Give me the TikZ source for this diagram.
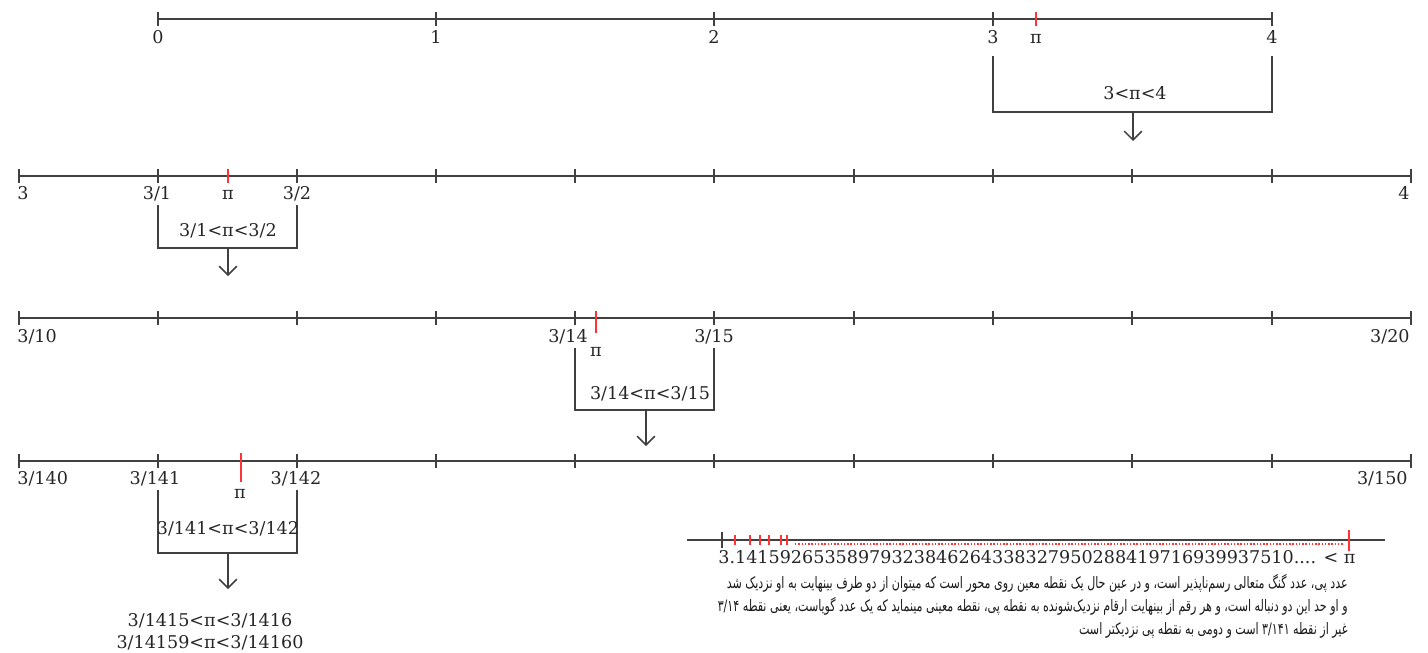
\documentclass[tikz,border=0pt]{standalone}
\usepackage{fontspec}
\setmainfont{DejaVu Serif}
\newfontfamily\persianfont[Script=Arabic, FakeStretch=0.7]{DejaVu Sans}
\TeXXeTstate=1
\usetikzlibrary{arrows.meta,positioning}

\begin{document}
\begin{tikzpicture}[
    x=0.02cm, y=-0.02cm,
    axis/.style={draw=black!75, line width=0.85pt},
    tick/.style={draw=black!75, line width=0.85pt},
    pitick/.style={draw=red!80, line width=0.85pt},
    lbl/.style={font=\fontsize{10}{12}\selectfont, text=black!85, inner sep=0pt},
    note/.style={font=\persianfont\fontsize{9}{11}\selectfont, text=black!90, inner sep=0pt, anchor=base east},
    bracket/.style={draw=black!75, line width=0.85pt},
    arrow/.style={-{Straight Barb[length=5pt,width=10pt]}, draw=black!75, line width=0.85pt}
]

\useasboundingbox (0,0) rectangle (1428,653);

% Row 1 (y=19): 0 .. 4
\coordinate (r1s) at (158,19);
\coordinate (r1e) at (1272,19);
\draw[axis] (r1s) -- (r1e);
\foreach \x in {158,436,714,993,1272}
    \draw[tick] (\x,12) -- (\x,26);
\draw[pitick] (1036,12) -- (1036,26);
\node[lbl, anchor=base] (n0)   at (158,43)  {0};
\node[lbl, anchor=base] (n1)   at (436,43)  {1};
\node[lbl, anchor=base] (n2)   at (714,43)  {2};
\node[lbl, anchor=base] (n3)   at (993,43)  {3};
\node[lbl, anchor=base] (pi1)  at (1036,43) {π};
\node[lbl, anchor=base] (n4)   at (1272,43) {4};

% Bracket 1
\coordinate (b1l) at (993,56);
\coordinate (b1r) at (1272,56);
\coordinate (b1m) at (1133,112);
\coordinate (b1t) at (1133,141);
\draw[bracket] (b1l) |- (b1m) -| (b1r);
\node[lbl, anchor=base] (c1) at (1135,99) {3<π<4};
\draw[arrow] (b1m) -- (b1t);

% Row 2 (y=176): 3 .. 4
\coordinate (r2s) at (19,176);
\coordinate (r2e) at (1411,176);
\draw[axis] (r2s) -- (r2e);
\foreach \x in {19,158,297,436,575,714,854,993,1132,1272,1411}
    \draw[tick] (\x,169) -- (\x,183);
\draw[pitick] (228,169) -- (228,183);
\node[lbl, anchor=base west] (m3)  at (17,199)   {3};
\node[lbl, anchor=base]      (m31) at (157,199)  {3/1};
\node[lbl, anchor=base]      (pi2) at (228,199)  {π};
\node[lbl, anchor=base]      (m32) at (297,199)  {3/2};
\node[lbl, anchor=base east] (m4)  at (1410,199) {4};

% Bracket 2
\coordinate (b2l) at (158,205);
\coordinate (b2r) at (297,205);
\coordinate (b2m) at (228,248);
\coordinate (b2t) at (228,276);
\draw[bracket] (b2l) |- (b2m) -| (b2r);
\node[lbl, anchor=base] (c2) at (228,236) {3/1<π<3/2};
\draw[arrow] (b2m) -- (b2t);

% Row 3 (y=318): 3/10 .. 3/20
\coordinate (r3s) at (19,318);
\coordinate (r3e) at (1411,318);
\draw[axis] (r3s) -- (r3e);
\foreach \x in {19,158,297,436,575,714,854,993,1132,1272,1411}
    \draw[tick] (\x,311) -- (\x,325);
\draw[pitick] (596,311) -- (596,333);
\node[lbl, anchor=base west] (k310) at (17,342)   {3/10};
\node[lbl, anchor=base]      (k314) at (568,342)  {3/14};
\node[lbl, anchor=base]      (pi3)  at (596,356)  {π};
\node[lbl, anchor=base]      (k315) at (714,342)  {3/15};
\node[lbl, anchor=base east] (k320) at (1410,342) {3/20};

% Bracket 3
\coordinate (b3l) at (575,348);
\coordinate (b3r) at (714,348);
\coordinate (b3m) at (646,410);
\coordinate (b3t) at (646,446);
\draw[bracket] (b3l) |- (b3m) -| (b3r);
\node[lbl, anchor=base] (c3) at (650,399) {3/14<π<3/15};
\draw[arrow] (b3m) -- (b3t);

% Row 4 (y=461): 3/140 .. 3/150
\coordinate (r4s) at (19,461);
\coordinate (r4e) at (1411,461);
\draw[axis] (r4s) -- (r4e);
\foreach \x in {19,158,297,436,575,714,854,993,1132,1272,1411}
    \draw[tick] (\x,454) -- (\x,468);
\draw[pitick] (241,453) -- (241,482);
\node[lbl, anchor=base west] (j140) at (17,484)   {3/140};
\node[lbl, anchor=base]      (j141) at (155,484)  {3/141};
\node[lbl, anchor=base]      (pi4)  at (240,498)  {π};
\node[lbl, anchor=base]      (j142) at (296,484)  {3/142};
\node[lbl, anchor=base east] (j150) at (1408,484) {3/150};

% Bracket 4
\coordinate (b4l) at (158,490);
\coordinate (b4r) at (297,490);
\coordinate (b4m) at (228,553);
\coordinate (b4t) at (228,589);
\draw[bracket] (b4l) |- (b4m) -| (b4r);
\node[lbl, anchor=base] (c4) at (228,534) {3/141<π<3/142};
\draw[arrow] (b4m) -- (b4t);

% Further bounds
\node[lbl, anchor=base] (d1) at (210,626) {3/1415<π<3/1416};
\node[lbl, anchor=base] (d2) at (210,648) {3/14159<π<3/14160};

% Decimal line
\coordinate (r5s) at (687,540);
\coordinate (r5e) at (1385,540);
\draw[axis] (r5s) -- (r5e);
\draw[tick] (722,532) -- (722,548);
\foreach \x in {735,750,760,769,781,787}
    \draw[pitick] (\x,535) -- (\x,545);
\draw[pitick, densely dotted] (795,544) -- (1344,544);
\draw[pitick] (1349,530) -- (1349,551);
\node[lbl, anchor=base] (dec) at (1037,563)
    {3.14159265358979323846264338327950288419716939937510.... < π};

% Persian note
\node[note] (p1) at (1348,588) {\beginR عدد پی، عدد گنگ متعالی رسم‌ناپذیر است، و در عین حال یک نقطه معین روی محور است که میتوان از دو طرف بینهایت به او نزدیک شد\endR};
\node[note] (p2) at (1348,611) {\beginR و او حد این دو دنباله است، و هر رقم از بینهایت ارقام نزدیک‌شونده به نقطه پی، نقطه معینی مینماید که یک عدد گویاست، یعنی نقطه ۳/۱۴\endR};
\node[note] (p3) at (1348,634) {\beginR غیر از نقطه ۳/۱۴۱ است و دومی به نقطه پی نزدیکتر است\endR};

\end{tikzpicture}
\end{document}
